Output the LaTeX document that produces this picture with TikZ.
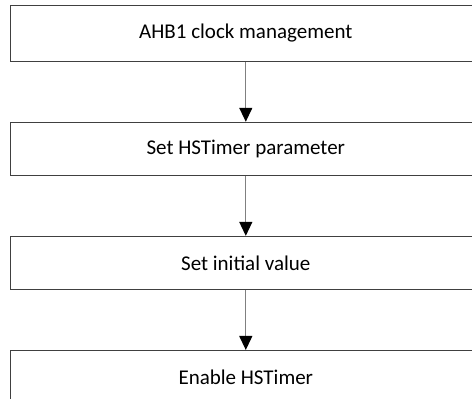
\documentclass[tikz,border=0pt]{standalone}
\usepackage{fontspec}
\setmainfont{Carlito}
\usetikzlibrary{arrows.meta}
\usetikzlibrary{positioning}

\begin{document}
\begin{tikzpicture}[x=1pt, y=1pt,
    stage/.style={draw=black!75, line width=1.1pt, minimum width=470pt, minimum height=53pt,
      inner sep=0pt, font=\fontsize{21}{24}\selectfont},
    flow/.style={draw=black!50, line width=1.3pt, -{Triangle[length=14pt, width=13pt, color=black]}},
    node distance=60pt]
    \useasboundingbox (0,0) rectangle (472,-399);

    \node [stage, minimum height=56pt] (ahb) at (245.8,-33.2) {AHB1 clock management};
    \node [stage, below=of ahb] (param) {Set HSTimer parameter};
    \node [stage, below=of param] (init) {Set initial value};
    \node [stage, below=of init] (enable) {Enable HSTimer};

    \draw [flow] (ahb) -- (param);
    \draw [flow] (param) -- (init);
    \draw [flow] (init) -- (enable);
\end{tikzpicture}
\end{document}
